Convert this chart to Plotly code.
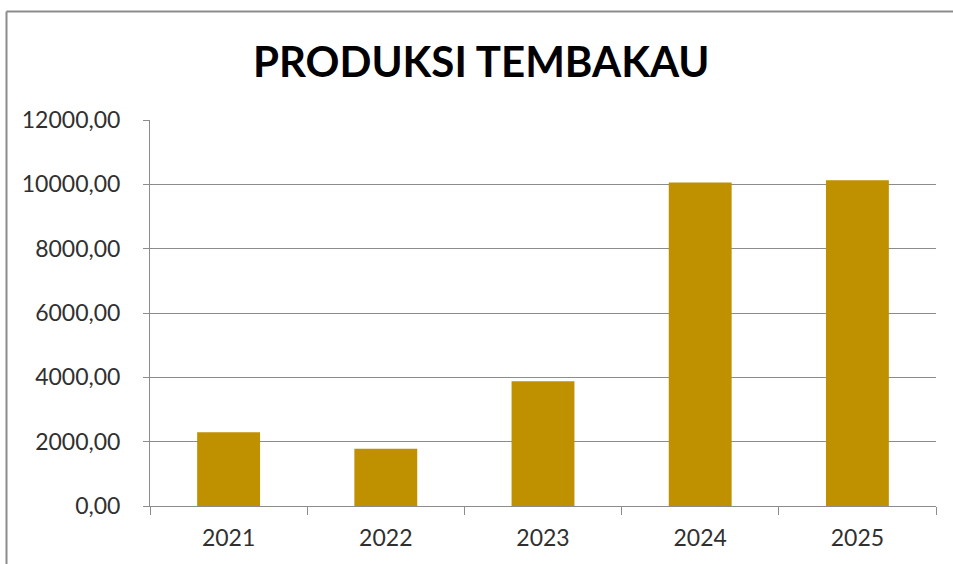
import plotly.graph_objects as go

years = ["2021", "2022", "2023", "2024", "2025"]
produksi = [2290, 1780, 3880, 10060, 10130]
y_ticks = [0, 2000, 4000, 6000, 8000, 10000, 12000]
y_tick_labels = ["0,00", "2000,00", "4000,00", "6000,00", "8000,00", "10000,00", "12000,00"]

fig = go.Figure()
fig.add_trace(go.Bar(
    x=years, y=produksi,
    marker=dict(color="#BF9000", line=dict(width=0)),
    width=0.4,
))

W, H = 953, 564
L, R, T, B = 150, 17, 120, 58
pw, ph = W - L - R, H - T - B

fig.update_layout(
    width=W, height=H,
    margin=dict(l=L, r=R, t=T, b=B),
    paper_bgcolor="white", plot_bgcolor="white",
    showlegend=False,
    font=dict(family="Lato", size=23, color="#303030"),
    title=dict(
        text="<b>PRODUKSI TEMBAKAU</b>",
        font=dict(family="Lato", size=42, color="black"),
        x=0.505, xanchor="center", xref="container",
        y=1 - 62 / H, yanchor="middle", yref="container",
    ),
    xaxis=dict(
        type="category",
        range=[-0.5, 4.5],
        showline=True, linecolor="#8c8c8c", linewidth=1,
        ticks="outside", tickson="boundaries", ticklen=8, tickcolor="#8c8c8c",
        showgrid=False,
        ticklabelstandoff=11,
    ),
    yaxis=dict(
        range=[0, 12000],
        tickvals=y_ticks, ticktext=y_tick_labels,
        showline=True, linecolor="#8c8c8c", linewidth=1,
        ticks="outside", ticklen=6, tickcolor="#8c8c8c",
        showgrid=True, gridcolor="#8c8c8c", gridwidth=1,
        zeroline=False,
        ticklabelstandoff=18,
    ),
    shapes=[
        dict(type="line", xref="paper", yref="paper",
             x0=(6.5 - L) / pw, x1=(W + 5 - L) / pw,
             y0=(H - 11.5 - B) / ph, y1=(H - 11.5 - B) / ph,
             line=dict(color="#8c8c8c", width=2)),
        dict(type="line", xref="paper", yref="paper",
             x0=(6.5 - L) / pw, x1=(6.5 - L) / pw,
             y0=(H - 11.5 - B) / ph, y1=(-5 - B) / ph,
             line=dict(color="#8c8c8c", width=2)),
    ],
)

fig.write_html("out.html", config={"displayModeBar": False},
               post_script="document.body.style.margin='0';")
